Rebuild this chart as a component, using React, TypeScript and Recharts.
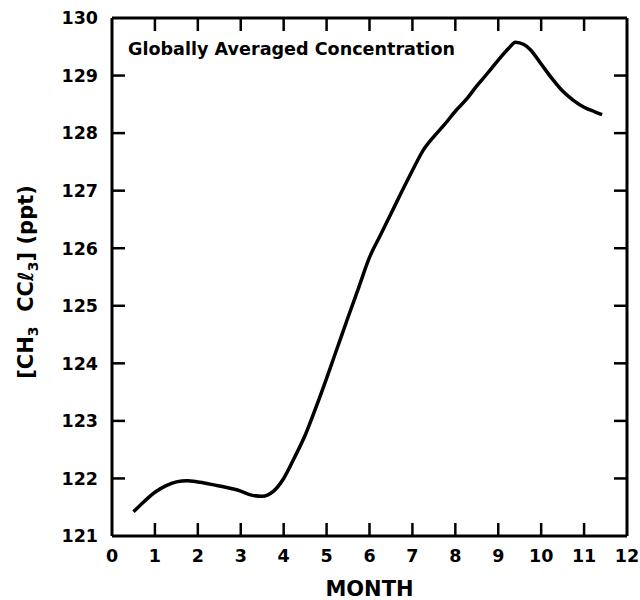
import React from 'react';
import { LineChart, Line, XAxis, YAxis, usePlotArea } from 'recharts';

const months = [0.5, 0.75, 1.0, 1.25, 1.5, 1.75, 2.0, 2.5, 3.0, 3.25, 3.5, 3.75, 4.0, 4.25, 4.5, 4.75, 5.0, 5.25, 5.5, 5.75, 6.0, 6.25, 6.5, 6.75, 7.0, 7.25, 7.5, 7.75, 8.0, 8.25, 8.5, 8.75, 9.0, 9.25, 9.4, 9.6, 9.75, 10.0, 10.25, 10.5, 10.75, 11.0, 11.25, 11.42];
const concentration = [121.42, 121.6, 121.76, 121.87, 121.94, 121.96, 121.94, 121.87, 121.78, 121.71, 121.69, 121.77, 122.0, 122.36, 122.75, 123.23, 123.74, 124.27, 124.8, 125.32, 125.84, 126.22, 126.6, 126.98, 127.35, 127.7, 127.94, 128.15, 128.38, 128.58, 128.82, 129.04, 129.27, 129.48, 129.58, 129.54, 129.45, 129.2, 128.95, 128.73, 128.57, 128.45, 128.37, 128.32];

const xTicks = [0, 1, 2, 3, 4, 5, 6, 7, 8, 9, 10, 11, 12];
const yTicks = [121, 122, 123, 124, 125, 126, 127, 128, 129, 130];

const title = 'Globally Averaged Concentration';
const xLabel = 'MONTH';

const data = months.map((m, i) => ({ month: m, value: concentration[i] }));

const FONT = '"DejaVu Sans", sans-serif';
const TICK_LEN = 13;
const TICK_W = 2.5;
const X_MARGIN = 14;
const Y_MARGIN = 14;

const CHART_W = 640;
const CHART_H = 600;
const MARGIN = { top: 17, right: 12, bottom: 30, left: 60 };
const LEFT_W = 52;
const RIGHT_W = 1;
const TOP_H = 1;
const BOTTOM_H = 34;

const X_MIN = xTicks[0];
const X_MAX = xTicks[xTicks.length - 1];
const Y_MIN = yTicks[0];
const Y_MAX = yTicks[yTicks.length - 1];

const AREA = {
  x: MARGIN.left + LEFT_W,
  y: MARGIN.top + TOP_H,
  width: CHART_W - MARGIN.left - LEFT_W - MARGIN.right - RIGHT_W,
  height: CHART_H - MARGIN.top - TOP_H - MARGIN.bottom - BOTTOM_H,
};

const useArea = () => {
  const a: any = typeof usePlotArea === 'function' ? usePlotArea() : null;
  if (a && isFinite(a.x) && isFinite(a.y) && isFinite(a.width) && isFinite(a.height) && a.width > 0) return a;
  return AREA;
};

const BottomTick = (props: any) => {
  const { x, y, payload } = props;
  return (
    <text x={x} y={y} dy="0.71em" textAnchor="middle" fontFamily={FONT} fontWeight="bold" fontSize={17.5} fill="#000">{String(payload.value)}</text>
  );
};

const LeftTick = (props: any) => {
  const { x, y, payload } = props;
  return (
    <text x={x} y={y} dy="0.36em" textAnchor="end" fontFamily={FONT} fontWeight="bold" fontSize={17.5} fill="#000">{String(payload.value)}</text>
  );
};

const YLabel = (props: any) => {
  const vb = props.viewBox || {};
  const cx = (vb.x ?? 0) - 27;
  const cy = (vb.y ?? 0) + (vb.height ?? 0) / 2 + 5;
  return (
    <text x={cx} y={cy} transform={`rotate(-90, ${cx}, ${cy})`} textAnchor="middle" fontFamily={FONT} fontWeight="bold" fontSize={21} fill="#000">
      <tspan>[CH</tspan>
      <tspan fontSize={14} dy={5}>3</tspan>
      <tspan dy={-5} xmlSpace="preserve">{'  CC'}</tspan>
      <tspan fontStyle="italic">ℓ</tspan>
      <tspan fontSize={14} dy={5}>3</tspan>
      <tspan dy={-5}>] (ppt)</tspan>
    </text>
  );
};

// Inward-pointing tick marks on all four sides of the frame (overlay)
const TickOverlay = () => {
  const area = AREA;
  const sx = (t: number) => area.x + ((t - X_MIN) / (X_MAX - X_MIN)) * area.width;
  const sy = (v: number) => area.y + ((Y_MAX - v) / (Y_MAX - Y_MIN)) * area.height;
  const bottom = area.y + area.height;
  const right = area.x + area.width;
  const innerX = xTicks.slice(1, -1);
  const innerY = yTicks.slice(1, -1);
  return (
    <svg width={CHART_W} height={CHART_H} style={{ position: 'absolute', left: 0, top: 0, pointerEvents: 'none' }}>
      {innerX.map((t) => (
        <g key={`x${t}`}>
          <line x1={sx(t)} y1={bottom} x2={sx(t)} y2={bottom - TICK_LEN} stroke="#000" strokeWidth={TICK_W} />
          <line x1={sx(t)} y1={area.y} x2={sx(t)} y2={area.y + TICK_LEN} stroke="#000" strokeWidth={TICK_W} />
        </g>
      ))}
      {innerY.map((v) => (
        <g key={`y${v}`}>
          <line x1={area.x} y1={sy(v)} x2={area.x + TICK_LEN} y2={sy(v)} stroke="#000" strokeWidth={TICK_W} />
          <line x1={right} y1={sy(v)} x2={right - TICK_LEN} y2={sy(v)} stroke="#000" strokeWidth={TICK_W} />
        </g>
      ))}
    </svg>
  );
};

const Title = () => {
  const area = useArea();
  return (
    <text x={area.x + 16} y={area.y + 37} fontFamily={FONT} fontWeight="bold" fontSize={18} textLength={327} lengthAdjust="spacingAndGlyphs" fill="#000">{title}</text>
  );
};

export default function App() {
  return (
    <div style={{ position: 'absolute', left: 0, top: 0, width: CHART_W, height: CHART_H, background: '#fff' }}>
      <LineChart width={CHART_W} height={CHART_H} data={data} margin={MARGIN}>
        <XAxis
          xAxisId="bottom"
          dataKey="month"
          type="number"
          domain={[X_MIN, X_MAX]}
          ticks={xTicks}
          interval={0}
          orientation="bottom"
          height={BOTTOM_H}
          tickSize={0}
          tickMargin={X_MARGIN}
          tickLine={false}
          axisLine={{ stroke: '#000', strokeWidth: 3 }}
          tick={<BottomTick />}
          label={{ value: xLabel, position: 'insideBottom', offset: -26, fontFamily: FONT, fontWeight: 'bold', fontSize: 21, fill: '#000' }}
        />
        <XAxis
          xAxisId="top"
          dataKey="month"
          type="number"
          domain={[X_MIN, X_MAX]}
          ticks={xTicks}
          interval={0}
          orientation="top"
          height={TOP_H}
          tickSize={0}
          tickMargin={0}
          tickLine={false}
          axisLine={{ stroke: '#000', strokeWidth: 3 }}
          tick={false}
        />
        <YAxis
          yAxisId="left"
          type="number"
          domain={[Y_MIN, Y_MAX]}
          ticks={yTicks}
          interval={0}
          orientation="left"
          width={LEFT_W}
          tickSize={0}
          tickMargin={Y_MARGIN}
          tickLine={false}
          axisLine={{ stroke: '#000', strokeWidth: 3 }}
          tick={<LeftTick />}
          label={<YLabel />}
        />
        <YAxis
          yAxisId="right"
          type="number"
          domain={[Y_MIN, Y_MAX]}
          ticks={yTicks}
          interval={0}
          orientation="right"
          width={RIGHT_W}
          tickSize={0}
          tickMargin={0}
          tickLine={false}
          axisLine={{ stroke: '#000', strokeWidth: 3 }}
          tick={false}
        />
        <Line
          xAxisId="bottom"
          yAxisId="left"
          type="monotone"
          dataKey="value"
          stroke="#000"
          strokeWidth={3.5}
          dot={false}
          isAnimationActive={false}
        />
        <Line
          xAxisId="top"
          yAxisId="right"
          type="monotone"
          dataKey="value"
          stroke="none"
          dot={false}
          legendType="none"
          isAnimationActive={false}
        />
        <Title />
      </LineChart>
      <TickOverlay />
    </div>
  );
}
